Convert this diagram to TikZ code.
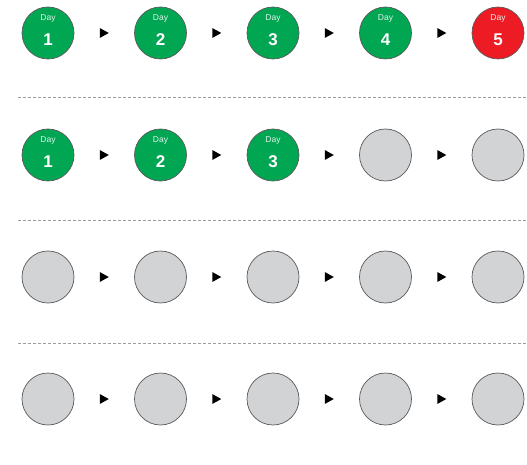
\documentclass[tikz,border=0pt]{standalone}
\usepackage{fontspec}
\setmainfont{Liberation Sans}
\usetikzlibrary{calc}
\definecolor{daygreen}{HTML}{00A651}
\definecolor{dayred}{HTML}{ED1C24}
\definecolor{dayblank}{HTML}{D1D3D4}
\definecolor{dayrim}{HTML}{5A5A5C}
\definecolor{rulegray}{HTML}{9C9C9C}

\tikzset{
  daydot/.style={circle, minimum size=52pt, inner sep=0pt, draw=dayrim, line width=0.7pt},
  donedot/.style={daydot, fill=daygreen},
  missdot/.style={daydot, fill=dayred},
  blankdot/.style={daydot, fill=dayblank},
  daytxt/.style={text=white!88!daygreen, font=\fontsize{8.5}{8.5}\selectfont, inner sep=0pt},
  numtxt/.style={text=white, font=\fontsize{17}{17}\selectfont\bfseries, inner sep=0pt},
  rowrule/.style={draw=rulegray, line width=0.6pt, dash pattern=on 2.5pt off 2.5pt},
}

\begin{document}
\begin{tikzpicture}[x=1pt, y=-1pt]
  \useasboundingbox (0,0) rectangle (527,465);

  % row 1: four done, day 5 missed
  \foreach \c/\x in {1/48, 2/160.5, 3/273, 4/385.5}
    \node[donedot] (r1c\c) at (\x,33) {};
  \node[missdot] (r1c5) at (498,33) {};
  \foreach \c in {1,...,5} {
    \node[daytxt] at ($(r1c\c)+(0,-15)$) {Day};
    \node[numtxt] at ($(r1c\c)+(0,6.5)$) {\c};
  }

  % row 2: three done
  \foreach \c/\x in {1/48, 2/160.5, 3/273}
    \node[donedot] (r2c\c) at (\x,155) {};
  \foreach \c/\x in {4/385.5, 5/498}
    \node[blankdot] (r2c\c) at (\x,155) {};
  \foreach \c in {1,2,3} {
    \node[daytxt] at ($(r2c\c)+(0,-15)$) {Day};
    \node[numtxt] at ($(r2c\c)+(0,6.5)$) {\c};
  }

  % rows 3 and 4: empty
  \foreach \r/\y in {3/277, 4/399}
    \foreach \c/\x in {1/48, 2/160.5, 3/273, 4/385.5, 5/498}
      \node[blankdot] (r\r c\c) at (\x,\y) {};

  % little arrow heads between the days
  \foreach \r in {1,...,4}
    \foreach \c/\nx in {1/2, 2/3, 3/4, 4/5}
      \fill ($(r\r c\c.east)!0.5!(r\r c\nx.west)$) +(-4.5,-5) -- +(4.5,0) -- +(-4.5,5) -- cycle;

  % dashed rules between the rows
  \foreach \y in {97, 220, 343}
    \draw[rowrule] (18,\y) -- (527,\y);
\end{tikzpicture}
\end{document}
